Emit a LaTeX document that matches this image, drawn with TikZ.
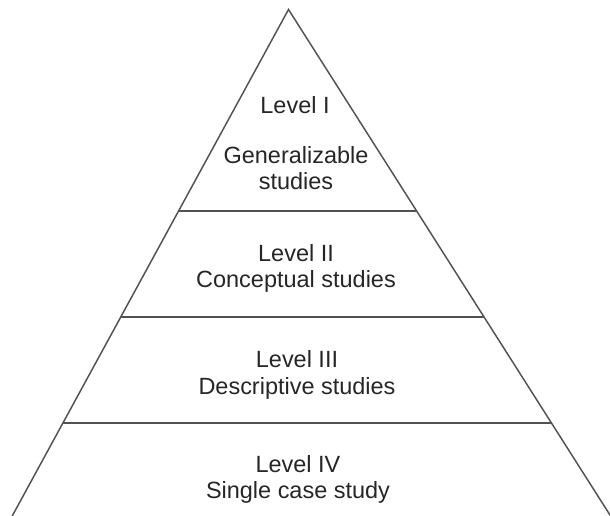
\documentclass[tikz,border=0pt]{standalone}
\usepackage{fontspec}
\setmainfont{Liberation Sans}
\usetikzlibrary{calc}
\begin{document}
\begin{tikzpicture}[x=0.75pt,y=-0.75pt,
  edge/.style={draw=black!68,line width=1.1pt},
  label/.style={font=\fontsize{17.6}{19.5}\selectfont,text=black!85,anchor=base,inner sep=0pt}]
\useasboundingbox (0,0) rectangle (610,516);
% outline of the pyramid
\coordinate (apex) at (288.5,9.5);
\coordinate (bl) at (12.2,516);
\coordinate (br) at (610.6,516);
\draw[edge] (bl) -- (apex) -- (br);
% dividing lines between levels
\coordinate (l1) at ($(apex)!0.3978!(bl)$);
\coordinate (r1) at ($(apex)!0.3978!(br)$);
\coordinate (l2) at ($(apex)!0.6071!(bl)$);
\coordinate (r2) at ($(apex)!0.6071!(br)$);
\coordinate (l3) at ($(apex)!0.8164!(bl)$);
\coordinate (r3) at ($(apex)!0.8164!(br)$);
\draw[edge] (l1) -- (r1);
\draw[edge] (l2) -- (r2);
\draw[edge] (l3) -- (r3);
% level texts
\node[label] (t1a) at (295,114) {Level I};
\node[label] (t1b) at (296,164) {Generalizable};
\node[label] (t1c) at (296,190) {studies};
\node[label] (t2a) at (296,262) {Level II};
\node[label] (t2b) at (296,288) {Conceptual studies};
\node[label] (t3a) at (297,368) {Level III};
\node[label] (t3b) at (297,394) {Descriptive studies};
\node[label] (t4a) at (298,472) {Level IV};
\node[label] (t4b) at (298,498) {Single case study};
\end{tikzpicture}
\end{document}
